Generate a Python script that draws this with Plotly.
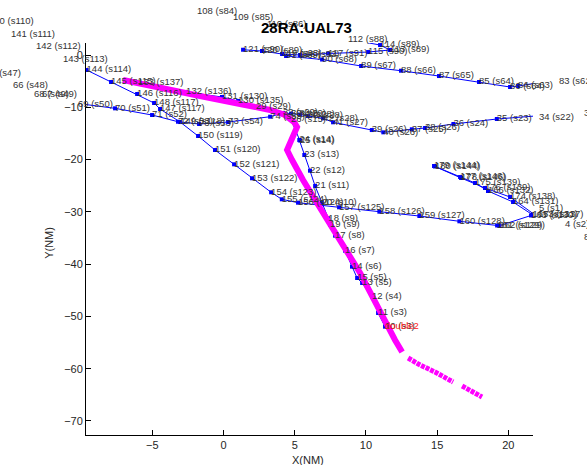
import plotly.graph_objects as go

# ---------------- data (NM) ----------------
# Track 1: s110 .. s146
t1_x = [-16.75, -15.2, -13.45, -11.55, -9.62, -7.90, -6.07, -4.88, -4.46, -3.05, -1.79, -0.60, 0.74, 2.0, 3.34,
        4.09, 5.23, 8.11, 10.94, 13.75, 16.56, 19.21, 19.37, 21.59, 21.69, 20.33, 18.57, 17.66, 16.61, 14.78,
        14.85, 16.68, 18.36, 20.12, 21.77]
t1_y = [6.69, 4.21, 1.91, -0.57, -2.87, -5.16, -7.46, -9.18, -10.33, -12.82, -15.49, -18.17, -20.91, -23.58, -26.26,
        -27.60, -28.25, -29.13, -29.97, -30.80, -31.81, -32.61, -32.65, -30.70, -30.55, -28.12, -26.01, -24.48, -23.34, -21.23,
        -21.33, -23.53, -25.44, -27.16, -30.4]
t1_lab = ["140 (s110)", "141 (s111)", "142 (s112)", "143 (s113)", "144 (s114)", "145 (s115)", "146 (s116)",
          "148 (s117)", "147 (s117)", "149 (s118)", "150 (s119)", "151 (s120)", "152 (s121)", "153 (s122)",
          "154 (s123)", "155 (s124)", "156 (s124)", "157 (s125)", "158 (s126)", "159 (s127)", "160 (s128)",
          "161 (s129)", "162 (s129)", "163 (s130)", "165 (s131)", "164 (s131)", "166 (s132)", "175 (s139)",
          "177 (s146)", "179 (s144)", "180 (s144)", "178 (s146)", "176 (s139)", "174 (s138)", "173 (s137)"]

# Track 2: s47 .. s21
t2_x = [-16.96, -15.06, -13.59, -13.03, -10.50, -7.62, -5.02, -3.20, -1.72, 0.32, 3.27, 4.18, 4.74, 5.37,
        5.93, 6.99, 7.69, 10.41, 11.22, 13.22, 14.15, 16.14, 19.19, 21.87, 25.04]
t2_y = [-3.25, -5.55, -7.27, -7.27, -9.18, -10.20, -11.48, -12.76, -13.20, -12.82, -11.80, -11.09, -11.19, -11.38,
        -11.67, -12.11, -12.87, -14.35, -14.79, -14.21, -13.96, -13.20, -12.24, -11.67, -10.90]
t2_lab = ["65 (s47)", "66 (s48)", "68 (s49)", "67 (s49)", "69 (s50)", "70 (s51)", "71 (s52)", "72 (s53)",
          "73 (s53)", "73 (s54)", "74 (s55)", "32 (s29)", "30 (s29)", "31 (s28)", "30 (s28)", "42 (s28)",
          "41 (s27)", "39 (s26)", "40 (s26)", "37 (s25)", "38 (s26)", "36 (s24)", "35 (s23)", "34 (s22)",
          "33 (s21)"]

# Track 3: s3 .. s15
t3_x = [11.34, 10.85, 10.43, 9.73, 9.38, 9.02, 8.53, 7.83, 7.48, 7.36, 6.90, 6.43, 6.07, 5.67, 5.32, 5.36, 4.74]
t3_y = [-51.97, -49.35, -46.29, -43.61, -42.66, -40.49, -37.43, -34.56, -32.52, -31.24, -28.25, -25.06, -22.13,
        -19.13, -16.26, -16.35, -12.43]
t3_lab = ["10 (s3)", "11 (s3)", "12 (s4)", "13 (s5)", "15 (s5)", "14 (s6)", "16 (s7)", "17 (s8)", "19 (s9)",
          "18 (s9)", "20 (s10)", "21 (s11)", "22 (s12)", "23 (s13)", "24 (s14)", "25 (s14)", "26 (s15)"]

# Track 4: s1 .. s3 (beyond right edge)
t4_x = [21.9, 23.7, 25.0]
t4_y = [-29.1, -32.3, -34.8]
t4_lab = ["5 (s1)", "4 (s2)", "8 (s3)"]

# Track 5: s84 .. s93
t5_x = [-2.14, 0.39, 2.77, 8.46, 10.99, 11.69, 10.15, 7.34, 5.37, 4.11, 2.70, 1.37]
t5_y = [8.61, 7.46, 6.12, 3.25, 1.91, 0.96, 0.57, 0.29, 0.0, 0.19, 0.77, 1.01]
t5_lab = ["108 (s84)", "109 (s85)", "110 (s86)", "112 (s88)", "114 (s89)", "113 (s89)", "115 (s90)",
          "117 (s91)", "118 (s92)", "119 (s93)", "120 (s89)", "121 (s90)"]

# Track 6: s62 .. s69
t6_x = [4.39, 6.92, 9.66, 12.46, 15.13, 17.94, 20.12, 20.68, 23.28]
t6_y = [-0.19, -0.86, -2.10, -3.00, -4.02, -5.16, -6.12, -5.93, -4.78]
t6_lab = ["91 (s69)", "90 (s68)", "89 (s67)", "88 (s66)", "87 (s65)", "85 (s64)", "86 (s64)", "84 (s63)",
          "83 (s62)"]

# Track 7: s137 .. s29 (under the magenta track)
t7_x = [-6.0, -2.63, -0.11, 1.02, 2.28]
t7_y = [-5.36, -7.08, -8.03, -8.80, -9.95]
t7_lab = ["133 (s137)", "132 (s136)", "131 (s130)", "130 (s135)", "29 (s29)"]

# Magenta track (UAL73), three pieces
m1_x = [-7.06, -4.46, -1.65, 1.16, 3.27, 4.32, 4.95, 5.16, 4.81, 4.46, 4.81, 5.58, 6.78, 8.18, 9.59, 10.50,
        11.34, 12.04, 12.54]
m1_y = [-4.78, -6.12, -7.84, -9.37, -10.52, -11.48, -12.82, -13.77, -15.88, -18.17, -20.08, -23.91, -29.27,
        -35.39, -41.70, -46.48, -51.07, -54.51, -56.81]
m2_x = [12.96, 13.80, 14.85, 16.12]
m2_y = [-57.96, -59.30, -60.64, -62.55]
m3_x = [16.75, 17.45, 18.15]
m3_y = [-63.31, -64.27, -65.42]

red_label = "double2"
red_x = [11.34]
red_y = [-51.97]

x_ticks = [-5, 0, 5, 10, 15, 20]
y_ticks = [-70, -60, -50, -40, -30, -20, -10, 0]
x_range = [-9.66, 21.73]
y_range = [-72.69, 2.30]
title_text = "28RA:UAL73"

# ---------------- figure ----------------
FONT = "Liberation Sans, Arial, Helvetica, sans-serif"
BLUE = "#0000ff"
MAG = "#ff00ff"
LABEL_FONT = dict(family=FONT, size=9.5, color="#333333")

fig = go.Figure()

tracks = [(t1_x, t1_y, t1_lab), (t2_x, t2_y, t2_lab), (t3_x, t3_y, t3_lab), (t4_x, t4_y, t4_lab),
          (t5_x, t5_y, t5_lab), (t6_x, t6_y, t6_lab), (t7_x, t7_y, t7_lab)]

for tx, ty, tl in tracks:
    fig.add_trace(go.Scatter(x=tx, y=ty, mode="lines+markers",
                             line=dict(color=BLUE, width=1),
                             marker=dict(color=BLUE, size=4, symbol="square"),
                             cliponaxis=True, hoverinfo="skip", showlegend=False))

fig.add_trace(go.Scatter(x=m1_x, y=m1_y, mode="lines", line=dict(color=MAG, width=6),
                         hoverinfo="skip", showlegend=False))
for mx, my in [(m2_x, m2_y), (m3_x, m3_y)]:
    fig.add_trace(go.Scatter(x=mx, y=my, mode="lines",
                             line=dict(color=MAG, width=5, dash="4px,1px"),
                             hoverinfo="skip", showlegend=False))


def inside(x, y):
    return x_range[0] <= x <= x_range[1] and y_range[0] <= y <= y_range[1]


def to_paper(x, y):
    return ((x - x_range[0]) / (x_range[1] - x_range[0]),
            (y - y_range[0]) / (y_range[1] - y_range[0]))


annotations = []
for tx, ty, tl in tracks:
    ix = [i for i in range(len(tx)) if inside(tx[i], ty[i])]
    ox = [i for i in range(len(tx)) if not inside(tx[i], ty[i])]
    fig.add_trace(go.Scatter(x=[tx[i] for i in ix], y=[ty[i] for i in ix], mode="text",
                             text=[tl[i] for i in ix], textposition="middle right",
                             textfont=LABEL_FONT, cliponaxis=False, hoverinfo="skip", showlegend=False))
    for i in ox:
        px, py = to_paper(tx[i], ty[i])
        annotations.append(dict(text=tl[i], x=px, y=py, xref="paper", yref="paper", showarrow=False,
                                xanchor="left", yanchor="middle", xshift=2, font=LABEL_FONT))

fig.add_trace(go.Scatter(x=red_x, y=red_y, mode="text", text=[red_label], textposition="middle right",
                         textfont=dict(family=FONT, size=9.5, color="#ff2020"),
                         cliponaxis=False, hoverinfo="skip", showlegend=False))

axis_common = dict(showgrid=False, zeroline=False, showline=True, linecolor="black", linewidth=1,
                   ticks="inside", ticklen=5, tickcolor="black", mirror=False,
                   tickfont=dict(family=FONT, size=11, color="#262626"))

annotations += [
    dict(text="X(NM)", x=0.496, y=-0.064, xref="paper", yref="paper", showarrow=False,
         xanchor="center", yanchor="middle", font=dict(family=FONT, size=11, color="#262626")),
    dict(text="Y(NM)", x=-0.083, y=0.49, xref="paper", yref="paper", showarrow=False, textangle=-90,
         xanchor="center", yanchor="middle", font=dict(family=FONT, size=11, color="#262626")),
    dict(text="<b>" + title_text + "</b>", x=0.494, y=1.04, xref="paper", yref="paper", showarrow=False,
         xanchor="center", yanchor="middle", font=dict(family=FONT, size=15, color="black")),
]

fig.update_layout(
    width=587, height=465,
    margin=dict(l=86, r=54, t=43, b=30, autoexpand=False),
    paper_bgcolor="white", plot_bgcolor="white",
    xaxis=dict(range=x_range, tickvals=x_ticks, autorange=False, **axis_common),
    yaxis=dict(range=y_range, tickvals=y_ticks, autorange=False, **axis_common),
    annotations=annotations,
)

fig.write_html("out.html")
